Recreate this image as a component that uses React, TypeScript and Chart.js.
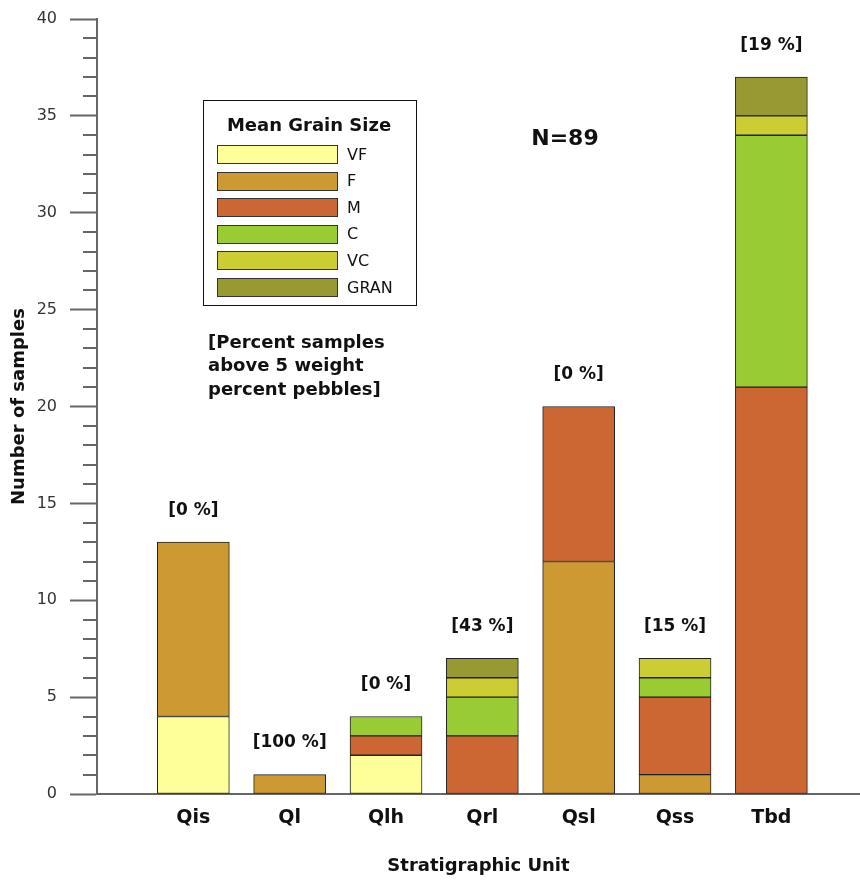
import React, { useEffect, useRef } from 'react';
import { Chart, registerables } from 'chart.js';

Chart.register(...registerables);

const categories = ['Qis', 'Ql', 'Qlh', 'Qrl', 'Qsl', 'Qss', 'Tbd'];
const sizeClasses = ['VF', 'F', 'M', 'C', 'VC', 'GRAN'];
const vfCounts = [4, 0, 2, 0, 0, 0, 0];
const fCounts = [9, 1, 0, 0, 12, 1, 0];
const mCounts = [0, 0, 1, 3, 8, 4, 21];
const cCounts = [0, 0, 1, 2, 0, 1, 13];
const vcCounts = [0, 0, 0, 1, 0, 1, 1];
const granCounts = [0, 0, 0, 1, 0, 0, 2];
const pebblePercent = [0, 100, 0, 43, 0, 15, 19];
const sizeColors = ['#FFFF99', '#CC9933', '#CC6633', '#99CC33', '#CCCC33', '#999933'];
const totalSamples = 89;
const legendTitle = 'Mean Grain Size';
const noteLines = ['[Percent samples', 'above 5 weight', 'percent pebbles]'];

const FONT = "'DejaVu Sans', sans-serif";

const seriesCounts = [vfCounts, fCounts, mCounts, cCounts, vcCounts, granCounts];

const overlayPlugin = {
  id: 'overlay',
  afterDraw(chart: any) {
    const { ctx, chartArea } = chart;
    const xs = chart.scales.x;
    const ys = chart.scales.y;
    ctx.save();
    // minor ticks
    ctx.strokeStyle = '#666';
    ctx.lineWidth = 2;
    for (let v = ys.min; v <= ys.max; v++) {
      if (v % 5 === 0) continue;
      const py = Math.round(ys.getPixelForValue(v));
      ctx.beginPath();
      ctx.moveTo(chartArea.left - 14, py);
      ctx.lineTo(chartArea.left, py);
      ctx.stroke();
    }
    // percent labels
    ctx.fillStyle = '#111';
    ctx.textAlign = 'center';
    ctx.textBaseline = 'middle';
    ctx.font = `bold 17px ${FONT}`;
    categories.forEach((_, i) => {
      const total = seriesCounts.reduce((s, arr) => s + arr[i], 0);
      const px = xs.getPixelForValue(i + 1);
      const py = ys.getPixelForValue(total) - 32;
      ctx.fillText(`[${pebblePercent[i]} %]`, px, py);
    });
    // N label
    ctx.font = `bold 22px ${FONT}`;
    ctx.fillText(`N=${totalSamples}`, 565, 139);
    // note
    ctx.textAlign = 'left';
    ctx.font = `bold 18px ${FONT}`;
    noteLines.forEach((t, k) => ctx.fillText(t, 208, 343 + k * 23.5));
    // legend box
    ctx.strokeStyle = '#111';
    ctx.lineWidth = 1;
    ctx.strokeRect(203.5, 100.5, 213, 205);
    ctx.textAlign = 'center';
    ctx.font = `bold 18px ${FONT}`;
    ctx.fillText(legendTitle, 309, 126);
    ctx.font = `16px ${FONT}`;
    ctx.textAlign = 'left';
    sizeClasses.forEach((name, k) => {
      const cy = 154.5 + k * 26.6;
      const top = Math.round(cy - 9.5);
      ctx.fillStyle = sizeColors[k];
      ctx.fillRect(217, top, 121, 19);
      ctx.strokeStyle = '#333';
      ctx.strokeRect(217.5, top + 0.5, 120, 18);
      ctx.fillStyle = '#111';
      ctx.fillText(name, 347, cy + 1);
    });
    ctx.restore();
  },
};

export default function App() {
  const ref = useRef<HTMLCanvasElement>(null);
  useEffect(() => {
    if (!ref.current) return;
    const datasets = sizeClasses.map((name, k) => ({
      label: name,
      data: seriesCounts[k]
        .map((v, i) => ({ x: i + 1, y: v }))
        .filter((p) => p.y > 0),
      backgroundColor: sizeColors[k],
      borderColor: '#222',
      borderWidth: 1,
      borderSkipped: false,
      barThickness: 72,
    }));
    const chart = new Chart(ref.current, {
      type: 'bar',
      data: { datasets },
      plugins: [overlayPlugin],
      options: {
        responsive: false,
        animation: false,
        devicePixelRatio: 1,
        layout: { padding: { top: 19, left: 0, right: 0, bottom: 0 } },
        plugins: { legend: { display: false }, tooltip: { enabled: false } },
        scales: {
          x: {
            type: 'linear',
            stacked: true,
            offset: false,
            min: 0,
            max: 7.92,
            afterFit: (s: any) => {
              s.height = 88;
              s.paddingLeft = 0;
              s.paddingRight = 0;
            },
            grid: { display: true, drawOnChartArea: false, drawTicks: false, offset: false },
            border: { display: true, color: '#666', width: 2 },
            ticks: {
              stepSize: 1,
              autoSkip: false,
              includeBounds: false,
              maxRotation: 0,
              padding: 13,
              color: '#111',
              font: { family: FONT, size: 19, weight: 'bold' },
              callback: (v: any) =>
                Number.isInteger(v) && v >= 1 && v <= categories.length ? categories[v - 1] : '',
            },
            title: {
              display: true,
              text: 'Stratigraphic Unit',
              color: '#111',
              font: { family: FONT, size: 18, weight: 'bold' },
              padding: { top: 0, bottom: 5 },
            },
          },
          y: {
            stacked: true,
            min: 0,
            max: 40,
            afterFit: (s: any) => {
              s.width = 97;
              s.paddingTop = 0;
              s.paddingBottom = 0;
            },
            grid: {
              display: true,
              drawOnChartArea: false,
              drawTicks: true,
              tickLength: 27,
              tickColor: '#666',
              tickWidth: 2,
            },
            border: { display: true, color: '#666', width: 2 },
            ticks: {
              stepSize: 5,
              padding: 13,
              color: '#333',
              font: { family: FONT, size: 16 },
            },
            title: {
              display: true,
              text: 'Number of samples',
              color: '#111',
              font: { family: FONT, size: 18, weight: 'bold' },
              padding: { top: 9, bottom: 0 },
            },
          },
        },
      },
    });
    return () => chart.destroy();
  }, []);
  return (
    <div style={{ position: 'absolute', left: 0, top: 0, width: 860, height: 882, background: '#fff' }}>
      <canvas ref={ref} width={860} height={882} />
    </div>
  );
}
